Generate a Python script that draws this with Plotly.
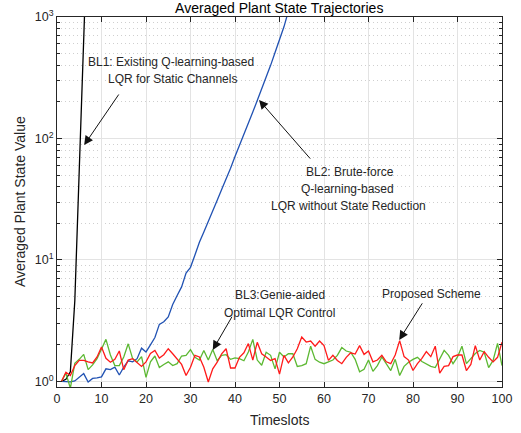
import plotly.graph_objects as go
import numpy as np

# ---------------- data ----------------
t_bl1 = [1, 2, 3, 4, 5, 6, 7]
bl1 = [1.0, 1.04, 1.2, 4.6, 55, 650, 7800]

t_bl2 = list(range(1, 55))
bl2 = [1.00, 1.00, 0.99, 1.01, 1.08, 1.16, 0.99, 1.06, 1.07, 1.09,
       1.27, 1.25, 1.31, 1.13, 1.31, 1.48, 1.45, 1.54, 1.88, 1.75,
       2.00, 2.30, 2.95, 3.10, 3.40, 4.30, 5.10, 6.00, 7.80, 8.70,
       11, 14, 17, 21, 25.5, 31, 38, 46, 57, 71,
       87, 107, 132, 165, 205, 255, 315, 400, 510, 650,
       830, 1120, 1400, 1750]

t_main = list(range(1, 101))
bl3 = [1.00, 1.17, 0.88, 1.41, 1.52, 1.67, 1.25, 1.37, 1.54, 1.86,
       2.22, 1.65, 1.35, 1.35, 1.59, 2.04, 1.54, 1.45, 1.60, 1.08,
       1.45, 1.62, 1.30, 1.38, 1.45, 1.35, 1.40, 1.62, 1.64, 1.83,
       1.58, 1.50, 1.80, 1.50, 1.83, 1.48, 1.64, 1.66, 1.52, 1.56,
       1.54, 1.48, 1.75, 2.22, 1.50, 1.36, 1.74, 1.64, 1.27, 1.74,
       1.59, 1.69, 1.69, 1.33, 1.35, 1.40, 1.95, 1.52, 1.44, 1.40,
       1.44, 1.50, 1.64, 1.90, 1.78, 1.74, 1.52, 1.20, 1.26, 1.50,
       1.21, 1.35, 1.59, 1.40, 1.23, 1.52, 1.12, 1.33, 1.44, 1.52,
       1.58, 1.46, 1.40, 1.33, 1.30, 1.52, 1.80, 1.64, 1.40, 1.59,
       1.95, 1.40, 1.55, 1.70, 1.80, 1.74, 1.30, 1.49, 2.06, 1.35]
proposed = [1.00, 1.19, 1.12, 1.35, 1.49, 1.49, 1.45, 1.42, 1.59, 1.92,
            1.55, 1.44, 1.52, 1.78, 1.25, 1.50, 1.54, 1.42, 1.33, 1.45,
            1.70, 1.80, 1.56, 1.66, 1.86, 1.69, 1.54, 1.38, 1.12, 1.31,
            1.64, 1.59, 1.31, 0.99, 1.27, 1.44, 1.69, 1.86, 1.29, 1.29,
            1.58, 1.72, 2.05, 1.50, 2.10, 1.69, 1.59, 1.49, 1.54, 1.15,
            1.64, 1.42, 1.59, 1.86, 2.32, 2.11, 2.15, 1.95, 2.15, 1.97,
            1.49, 1.64, 1.49, 1.40, 1.58, 1.72, 1.68, 1.97, 1.67, 1.78,
            1.45, 1.50, 1.64, 1.45, 1.40, 1.65, 2.17, 1.60, 1.50, 1.23,
            1.40, 1.55, 1.76, 1.60, 1.95, 1.17, 1.33, 1.35, 1.60, 1.65,
            1.65, 1.23, 1.38, 1.97, 1.50, 1.76, 1.58, 1.45, 1.58, 2.10]

x_ticks = list(range(0, 101, 10))
y_ticks = [1, 10, 100, 1000]
y_ticktext = ["10<sup>0</sup>", "10<sup>1</sup>", "10<sup>2</sup>", "10<sup>3</sup>"]
y_minor = [m * d for d in (1, 10, 100) for m in range(2, 10)]

# ---------------- figure ----------------
FONT = "Liberation Sans, Arial, sans-serif"
AX = "#262626"

fig = go.Figure()
fig.add_trace(go.Scatter(x=t_bl1, y=bl1, mode="lines",
                         line=dict(color="#000000", width=1.3), name="BL1"))
fig.add_trace(go.Scatter(x=t_bl2, y=bl2, mode="lines",
                         line=dict(color="#2152b3", width=1.3), name="BL2"))
fig.add_trace(go.Scatter(x=t_main, y=bl3, mode="lines",
                         line=dict(color="#5cb832", width=1.3), name="BL3"))
fig.add_trace(go.Scatter(x=t_main, y=proposed, mode="lines",
                         line=dict(color="#ff1a1a", width=1.3), name="Proposed"))

L = np.log10


def arrow(hx, hy, tx, ty):
    fig.add_annotation(x=hx, y=L(hy), ax=tx, ay=L(ty), xref="x", yref="y",
                       axref="x", ayref="y", text="", showarrow=True,
                       arrowhead=2, arrowsize=1.8, arrowwidth=1,
                       arrowcolor="#111111")


def label(x, y, s):
    fig.add_annotation(x=x, y=L(y), xref="x", yref="y", text=s,
                       showarrow=False, font=dict(size=12, color="#262626",
                                                  family=FONT),
                       xanchor="center", yanchor="middle")


def pxv(py):
    # helper converting an approximate pixel row into a data value
    return 10 ** ((381 - py) / 121.3)


# BL1
label(25.6, pxv(62), "BL1: Existing Q-learning-based")
label(26.0, pxv(79.5), "LQR for Static Channels")
arrow(6.1, pxv(145), 14.1, pxv(93))
# BL2
label(65.8, pxv(172), "BL2: Brute-force")
label(65.2, pxv(189), "Q-learning-based")
label(65.5, pxv(206), "LQR without State Reduction")
arrow(45.4, pxv(100), 57.2, pxv(160))
# BL3
label(50.1, pxv(295), "BL3:Genie-aided")
label(50.1, pxv(312.5), "Optimal LQR Control")
arrow(35.0, pxv(349.5), 39.5, pxv(315))
# Proposed
label(84.1, pxv(293.5), "Proposed Scheme")
arrow(76.9, pxv(339.5), 82.3, pxv(301.5))

# axis titles as paper-anchored text
fig.add_annotation(x=0.5, y=-33 / 370, xref="paper", yref="paper",
                   text="Timeslots", showarrow=False, xanchor="center",
                   yanchor="middle", font=dict(size=14, color=AX, family=FONT))
fig.add_annotation(x=-37 / 445, y=0.5, xref="paper", yref="paper",
                   text="Averaged Plant State Value", showarrow=False,
                   textangle=-90, xanchor="center", yanchor="middle",
                   font=dict(size=14, color=AX, family=FONT))

fig.update_layout(
    width=521, height=433,
    margin=dict(l=57, r=19, t=17, b=46, autoexpand=False),
    paper_bgcolor="white", plot_bgcolor="white",
    showlegend=False,
    font=dict(family=FONT, color=AX, size=12),
    title=dict(text="Averaged Plant State Trajectories",
               x=0.536, xanchor="center", y=1 - 8 / 433, yanchor="middle",
               yref="container", font=dict(size=14, color="#000000")),
)
fig.update_xaxes(
    range=[0, 100], tickmode="array", tickvals=x_ticks, automargin=False,
    ticks="inside", ticklen=5, tickwidth=1, tickcolor=AX,
    showline=True, linecolor=AX, linewidth=1, mirror="all",
    showgrid=True, gridcolor="#e3e3e3", gridwidth=1, zeroline=False,
    tickfont=dict(size=12.5, color=AX),
)
fig.update_yaxes(
    type="log", range=[L(0.9), 3], tickmode="array", tickvals=y_ticks,
    ticktext=y_ticktext, automargin=False,
    ticks="inside", ticklen=5, tickwidth=1, tickcolor=AX,
    showline=True, linecolor=AX, linewidth=1, mirror="all",
    showgrid=True, gridcolor="#e3e3e3", gridwidth=1, zeroline=False,
    tickfont=dict(size=12.5, color=AX),
    minor=dict(tickmode="array", tickvals=y_minor, ticks="inside", ticklen=3,
               tickcolor=AX, showgrid=True, gridcolor="#cfcfcf",
               griddash="1px,3px", gridwidth=1),
)

fig.write_html("out.html",
               config={"displayModeBar": False},
               post_script="document.body.style.margin='0';"
                           "document.body.style.overflow='hidden';")
